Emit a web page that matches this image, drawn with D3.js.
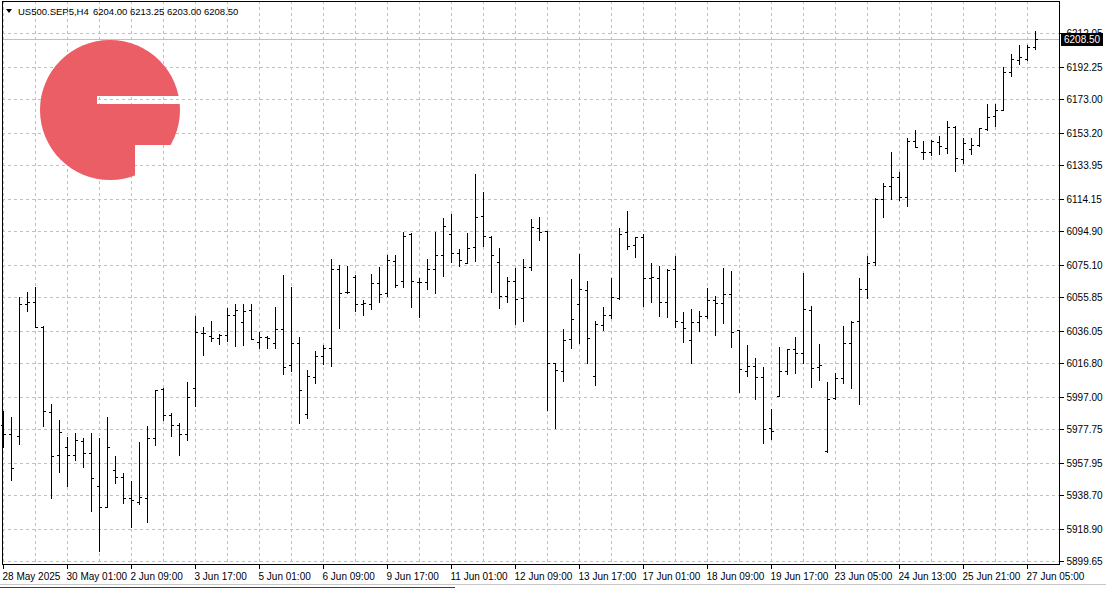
<!DOCTYPE html>
<html><head><meta charset="utf-8">
<script src="https://cdn.jsdelivr.net/npm/d3@7"></script>
<style>
html,body{margin:0;padding:0;background:#fff;overflow:hidden}
svg{display:block}
text{font-family:"Liberation Sans",Arial,sans-serif;}
</style>
</head><body>
<svg id="c" width="1106" height="589"></svg>
<script>
const symbolName = "US500.SEP5,H4";
const headerValues = "6204.00 6213.25 6203.00 6208.50";
const lastPrice = 6208.50;

const openV = [
5980.0,5974.9,5973.7,6051.8,6053.0,6038.2,5988.1,5962.5,5967.2,5962.5,
5970.8,5963.7,5944.4,5931.7,5953.6,5949.7,5937.3,5934.6,5937.3,5972.4,
6001.4,5986.4,5980.1,5975.2,6002.0,6035.0,6033.2,6032.0,6033.8,6045.6,
6041.5,6048.6,6029.2,6032.6,6028.6,6037.3,6015.6,6029.0,5987.0,6008.5,
6020.9,6026.1,6072.8,6059.0,6067.9,6051.7,6052.1,6064.1,6058.2,6077.6,
6065.7,6093.1,6065.1,6065.1,6072.8,6080.7,6093.5,6082.3,6076.4,6085.4,
6104.2,6091.4,6076.9,6056.8,6065.6,6055.4,6073.7,6096.8,6095.0,6016.8,
6012.2,6031.1,6051.8,6060.3,6009.2,6039.4,6045.3,6055.4,6094.4,6086.7,
6091.5,6067.1,6067.5,6053.1,6072.8,6041.5,6030.4,6041.5,6044.6,6054.5,
6052.3,6057.6,6036.5,6012.5,6015.4,6008.5,5978.5,5997.4,6012.2,6025.2,
6022.8,6048.5,6014.6,5964.7,5996.2,6008.1,6028.8,6041.8,6060.9,6076.7,
6114.0,6121.6,6126.9,6115.0,6148.2,6141.6,6141.6,6147.6,6144.2,6156.8,
6137.5,6143.4,6146.2,6155.6,6163.0,6166.9,6189.2,6196.1,6197.1,6204.00];
const highV = [
5988.7,5985.2,6056.2,6059.1,6062.1,6038.6,5992.7,5983.4,5973.3,5975.5,
5972.8,5975.5,5972.8,5985.2,5962.1,5951.7,5947.2,5970.1,5979.5,6001.0,
6002.0,5987.2,5981.3,6005.6,6044.6,6038.5,6041.7,6034.0,6049.3,6051.9,
6051.9,6051.9,6035.1,6032.8,6049.9,6068.9,6061.8,6032.2,6012.7,6023.9,
6027.5,6078.3,6074.8,6074.4,6069.1,6054.5,6069.5,6073.6,6080.7,6081.1,
6094.5,6093.9,6067.5,6078.7,6094.5,6102.6,6105.0,6084.3,6093.7,6128.6,
6118.0,6092.0,6084.9,6067.7,6073.3,6078.6,6102.3,6103.5,6095.0,6016.8,
6037.2,6066.4,6081.6,6065.6,6042.0,6049.9,6067.4,6097.0,6107.1,6091.5,
6093.5,6076.0,6074.4,6072.4,6080.1,6047.0,6048.8,6047.6,6061.4,6056.4,
6073.2,6071.2,6036.5,6027.9,6019.8,6014.6,5989.5,6026.6,6025.2,6032.5,
6070.2,6050.9,6028.4,6005.9,6011.2,6038.6,6041.6,6067.0,6080.2,6114.4,
6123.6,6141.8,6130.0,6150.1,6154.9,6148.2,6149.1,6151.5,6160.2,6157.2,
6150.1,6150.1,6156.0,6170.2,6170.4,6192.1,6199.8,6205.1,6205.1,6213.25];
const lowV = [
5967.0,5947.5,5969.2,6047.5,6038.2,5979.5,5936.9,5952.2,5944.0,5959.3,
5955.2,5929.2,5905.5,5931.7,5945.7,5933.9,5920.2,5933.8,5922.9,5968.5,
5983.3,5973.8,5962.6,5971.5,5991.6,6021.7,6030.0,6028.2,6030.0,6027.1,
6027.7,6031.2,6025.9,6025.9,6025.7,6010.5,6012.1,5981.5,5984.5,6005.2,
6016.4,6015.2,6037.7,6058.4,6047.6,6045.4,6049.0,6053.1,6056.4,6062.2,
6062.0,6050.1,6044.2,6060.8,6058.4,6068.5,6076.6,6074.4,6076.0,6077.2,
6086.0,6059.0,6049.5,6053.1,6040.2,6041.6,6071.8,6089.5,5988.9,5978.5,
6006.1,6025.6,6028.6,6016.7,6003.9,6036.3,6043.7,6055.0,6084.4,6079.4,
6050.7,6053.1,6044.8,6044.2,6038.3,6029.4,6017.0,6036.1,6043.6,6033.6,
6040.7,6026.5,5999.8,6009.3,5995.7,5969.7,5971.8,5997.4,6010.2,6010.8,
6016.7,6002.5,6006.7,5964.3,5995.4,6004.9,6001.9,5992.5,6055.2,6074.7,
6103.1,6114.0,6113.6,6110.1,6144.6,6137.9,6139.9,6140.9,6141.3,6130.8,
6135.3,6140.9,6145.6,6155.0,6157.4,6166.9,6187.0,6194.1,6196.5,6203.00];
const closeV = [
5974.9,5955.0,6051.8,6053.0,6038.2,5988.7,5961.9,5976.1,5962.5,5971.6,
5963.7,5948.9,5931.7,5967.2,5949.7,5937.1,5935.8,5937.9,5972.8,6000.8,
5986.0,5980.1,5974.8,5997.1,6035.2,6035.0,6032.0,6033.4,6045.6,6048.4,
6048.0,6031.2,6032.2,6031.8,6037.3,6014.4,6029.0,6001.2,6009.3,6021.3,
6025.9,6072.8,6058.6,6059.2,6051.7,6052.3,6064.5,6058.0,6078.1,6063.0,
6092.3,6065.7,6065.1,6072.8,6080.7,6098.3,6082.3,6078.1,6084.9,6103.2,
6092.0,6081.1,6056.8,6065.7,6055.0,6073.7,6097.4,6094.6,6016.8,6012.8,
6030.5,6043.2,6060.9,6031.7,6040.0,6045.3,6056.0,6093.4,6086.1,6091.5,
6067.5,6067.9,6053.1,6072.0,6042.1,6037.9,6041.5,6045.0,6054.5,6052.7,
6058.0,6035.1,6013.3,6015.4,6008.9,5978.2,5976.9,6012.2,6025.2,6022.8,
6049.1,6014.0,6015.8,5995.6,6008.1,6028.8,6041.4,6060.9,6076.3,6114.0,
6121.6,6127.2,6115.4,6148.2,6144.6,6141.6,6148.5,6145.2,6156.6,6138.1,
6147.2,6145.8,6156.0,6162.4,6166.9,6189.2,6196.7,6198.0,6203.8,6208.50];

const yTickValues = [6212.05,6192.25,6173.00,6153.20,6133.95,6114.15,6094.90,6075.10,
  6055.85,6036.05,6016.80,5997.00,5977.75,5957.95,5938.70,5918.90,5899.65];
const xTickBars = [0,8,16,24,32,40,48,56,64,72,80,88,96,104,112,120,128];
const xTickLabels = ["28 May 2025","30 May 01:00","2 Jun 09:00","3 Jun 17:00","5 Jun 01:00",
  "6 Jun 09:00","9 Jun 17:00","11 Jun 01:00","12 Jun 09:00","13 Jun 17:00","17 Jun 01:00",
  "18 Jun 09:00","19 Jun 17:00","23 Jun 05:00","24 Jun 13:00","25 Jun 21:00","27 Jun 05:00"];

const bars = openV.map((o,i)=>({i, o, h:highV[i], l:lowV[i], c:closeV[i]}));

const L = 2, R = 1059, T = 1, B = 564;
const svg = d3.select("#c");
const x = d3.scaleLinear().domain([0, bars.length-1]).range([3, 1035]);
const y = d3.scaleLinear().domain([5899.65, 6212.05]).range([561.3, 33.3]);
const px = v => Math.round(x(v));
const py = v => Math.round(y(v));

svg.append("rect").attr("width",1106).attr("height",589).attr("fill","#fff");

// grid
const grid = svg.append("g").attr("stroke","#c0c0c0").attr("stroke-dasharray","3,3").attr("shape-rendering","crispEdges");
grid.selectAll("line.h").data(yTickValues).join("line").attr("class","h")
  .attr("x1",L).attr("x2",R).attr("y1",d=>py(d)+0.5).attr("y2",d=>py(d)+0.5);
grid.selectAll("line.v").data(d3.range(0, bars.length, 4)).join("line").attr("class","v")
  .attr("x1",d=>px(d)+0.5).attr("x2",d=>px(d)+0.5).attr("y1",T).attr("y2",B);

// logo watermark
const defs = svg.append("defs");
const mask = defs.append("mask").attr("id","logoMask");
mask.append("rect").attr("x",0).attr("y",0).attr("width",300).attr("height",300).attr("fill","#fff");
mask.append("rect").attr("x",97).attr("y",96).attr("width",100).attr("height",8).attr("fill","#000");
mask.append("rect").attr("x",135).attr("y",145).attr("width",100).attr("height",60).attr("fill","#000");
svg.append("circle").attr("cx",110).attr("cy",110).attr("r",70)
  .attr("fill","#eb5e66").attr("mask","url(#logoMask)");

// last price line
svg.append("line").attr("x1",L).attr("x2",R)
  .attr("y1",py(lastPrice)+0.5).attr("y2",py(lastPrice)+0.5)
  .attr("stroke","#c0c0c0").attr("shape-rendering","crispEdges");

// OHLC bars
const gb = svg.append("g").attr("fill","#000").attr("shape-rendering","crispEdges");
const bg = gb.selectAll("g").data(bars).join("g");
bg.append("rect").attr("x",d=>px(d.i)).attr("y",d=>py(d.h)).attr("width",1)
  .attr("height",d=>Math.max(1, py(d.l)-py(d.h)+1));
bg.append("rect").attr("x",d=>px(d.i)-2).attr("y",d=>py(d.o)).attr("width",2).attr("height",1);
bg.append("rect").attr("x",d=>px(d.i)+1).attr("y",d=>py(d.c)).attr("width",2).attr("height",1);

// frame
svg.append("rect").attr("x",L+0.5).attr("y",T+0.5).attr("width",R-L).attr("height",B-T)
  .attr("fill","none").attr("stroke","#000").attr("shape-rendering","crispEdges");

// y axis
const yAxis = svg.append("g").attr("transform",`translate(${R+0.5},0)`)
  .call(d3.axisRight(y).tickValues(yTickValues).tickSize(4).tickPadding(3).tickFormat(d3.format(".2f")));
yAxis.select(".domain").remove();
yAxis.selectAll(".tick").attr("transform",d=>`translate(0,${py(d)+0.5})`);
yAxis.selectAll("line").attr("stroke","#000").attr("shape-rendering","crispEdges");
yAxis.selectAll("text").attr("font-size",10).attr("fill","#000")
  .attr("font-family","'Liberation Sans',Arial,sans-serif");

// x axis
const xAxis = svg.append("g").attr("transform",`translate(0,${B+0.5})`)
  .call(d3.axisBottom(x).tickValues(xTickBars).tickSize(4).tickPadding(4)
    .tickFormat((d,k)=>xTickLabels[k]));
xAxis.select(".domain").remove();
xAxis.selectAll(".tick").attr("transform",d=>`translate(${px(d)+0.5},0)`);
xAxis.selectAll("line").attr("stroke","#000").attr("shape-rendering","crispEdges");
xAxis.selectAll("text").attr("font-size",10).attr("fill","#000").attr("text-anchor","start")
  .attr("x",-1).attr("font-family","'Liberation Sans',Arial,sans-serif");

// price label
const yp = py(lastPrice);
svg.append("rect").attr("x",1061).attr("y",yp-6).attr("width",42).attr("height",13).attr("fill","#000");
svg.append("text").attr("x",1064).attr("y",yp+4).attr("fill","#fff").attr("font-size",10)
  .text(d3.format(".2f")(lastPrice));

// header
svg.append("path").attr("d","M6,9 L12,9 L9,13 Z").attr("fill","#000");
svg.append("text").attr("x",18).attr("y",15).attr("font-size",9.5).attr("fill","#000").text(symbolName);
svg.append("text").attr("x",93).attr("y",15).attr("font-size",9.5).attr("fill","#000").text(headerValues);

// window bottom
svg.append("line").attr("x1",0).attr("x2",1106).attr("y1",584.5).attr("y2",584.5).attr("stroke","#c8c8c8");
svg.append("line").attr("x1",0).attr("x2",455).attr("y1",587.5).attr("y2",587.5).attr("stroke","#404040");
</script>
</body></html>
